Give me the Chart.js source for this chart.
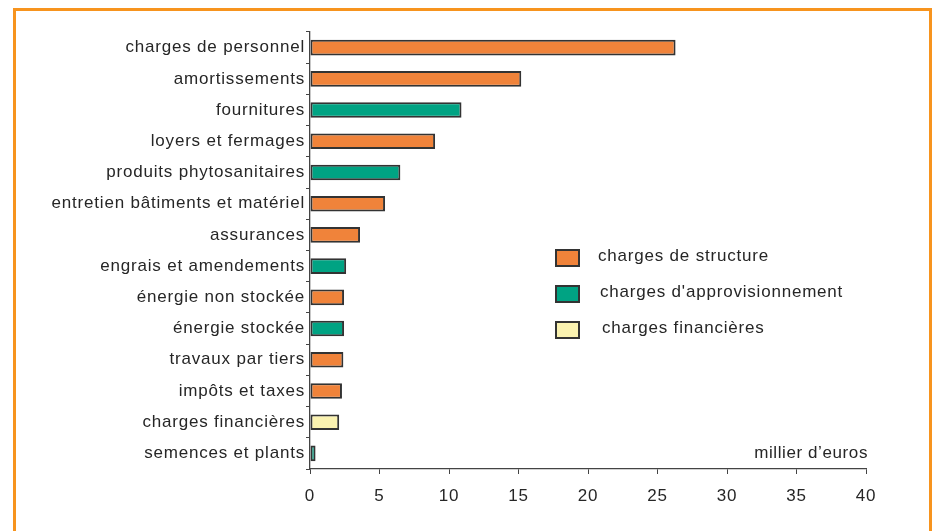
<!DOCTYPE html>
<html><head><meta charset="utf-8">
<script src="https://cdn.jsdelivr.net/npm/chart.js@4"></script>
<style>
html,body{margin:0;padding:0;background:#fff;overflow:hidden;}
#wrap{position:relative;width:933px;height:531px;}
#frame{position:absolute;left:13px;top:8px;width:913px;height:540px;border:3px solid #F7941E;border-bottom:none;}
canvas{position:absolute;left:0;top:0;}
</style></head>
<body><div id="wrap"><div id="frame"></div><canvas id="c" width="933" height="531"></canvas></div>
<script>
const categories = ["charges de personnel","amortissements","fournitures","loyers et fermages","produits phytosanitaires","entretien bâtiments et matériel","assurances","engrais et amendements","énergie non stockée","énergie stockée","travaux par tiers","impôts et taxes","charges financières","semences et plants"];
const values = [26.3,15.2,10.9,9.0,6.5,5.4,3.6,2.6,2.45,2.45,2.4,2.3,2.1,0.4];
const groups = ["structure","structure","appro","structure","appro","structure","structure","appro","structure","appro","structure","structure","fin","appro"];
const legendKeys = ["structure","appro","fin"];
const legendLabels = ["charges de structure","charges d'approvisionnement","charges financières"];
const xTicks = [0,5,10,15,20,25,30,35,40];
const unitLabel = "millier d’euros";
const colorOf = {structure:"#F0833A", appro:"#00A383", fin:"#FAF2B0"};

const FONT = "'Liberation Sans', Arial, sans-serif";
const TXT = "#262626";
const LS = '0.8px';

const spacingPlugin = {
  id:'spacing',
  beforeUpdate(chart){ chart.ctx.letterSpacing=LS; },
  beforeDraw(chart){ chart.ctx.letterSpacing=LS; }
};
const extras = {
  id:'extras',
  afterDraw(chart){
    const ctx = chart.ctx, x = chart.scales.x;
    ctx.save();
    ctx.letterSpacing='0.6px';
    ctx.font = "17px " + FONT;
    ctx.fillStyle = TXT;
    ctx.textAlign='right'; ctx.textBaseline='middle';
    ctx.fillText(unitLabel, x.getPixelForValue(40)+2, 453);
    ctx.letterSpacing=LS;
    const lx = 556, ly0 = 258, dy = 36;
    ctx.textAlign='left';
    legendKeys.forEach((k,i)=>{
      const y = ly0 + i*dy;
      ctx.fillStyle = colorOf[k];
      ctx.fillRect(lx, y-8, 23, 16);
      ctx.strokeStyle = "#333"; ctx.lineWidth = 2;
      ctx.strokeRect(lx, y-8, 23, 16);
      ctx.fillStyle = TXT;
      ctx.fillText(legendLabels[i], 598 + i*2, y-2);
    });
    ctx.restore();
  }
};

new Chart(document.getElementById('c'), {
  type:'bar',
  data:{ labels: categories, datasets:[{
    data: values,
    backgroundColor: groups.map(g=>colorOf[g]),
    borderColor:"#333", borderWidth:2, borderSkipped:false,
    barPercentage:0.5, categoryPercentage:1
  }]},
  options:{
    indexAxis:'y', responsive:false, animation:false, devicePixelRatio:1,
    layout:{padding:{left:0,right:67,top:32,bottom:0}},
    plugins:{legend:{display:false}, tooltip:{enabled:false}},
    scales:{
      x:{ min:0, max:40, afterBuildTicks(s){ s.ticks = xTicks.map(v=>({value:v})); },
          afterFit(s){ s.height = 62; },
          grid:{drawOnChartArea:false, drawTicks:true, tickLength:5, color:"#444", tickColor:"#444"},
          border:{color:"#444", width:1.3},
          ticks:{color:TXT, font:{family:FONT,size:17}, padding:12, maxRotation:0}},
      y:{ afterFit(s){ s.width = 310; },
          grid:{drawOnChartArea:false, drawTicks:true, tickLength:4, offset:true, color:"#444", tickColor:"#444"},
          border:{color:"#444", width:1.3},
          ticks:{color:TXT, font:{family:FONT,size:17}, padding:1, autoSkip:false}}
    }
  },
  plugins:[spacingPlugin, extras]
});
</script></body></html>
